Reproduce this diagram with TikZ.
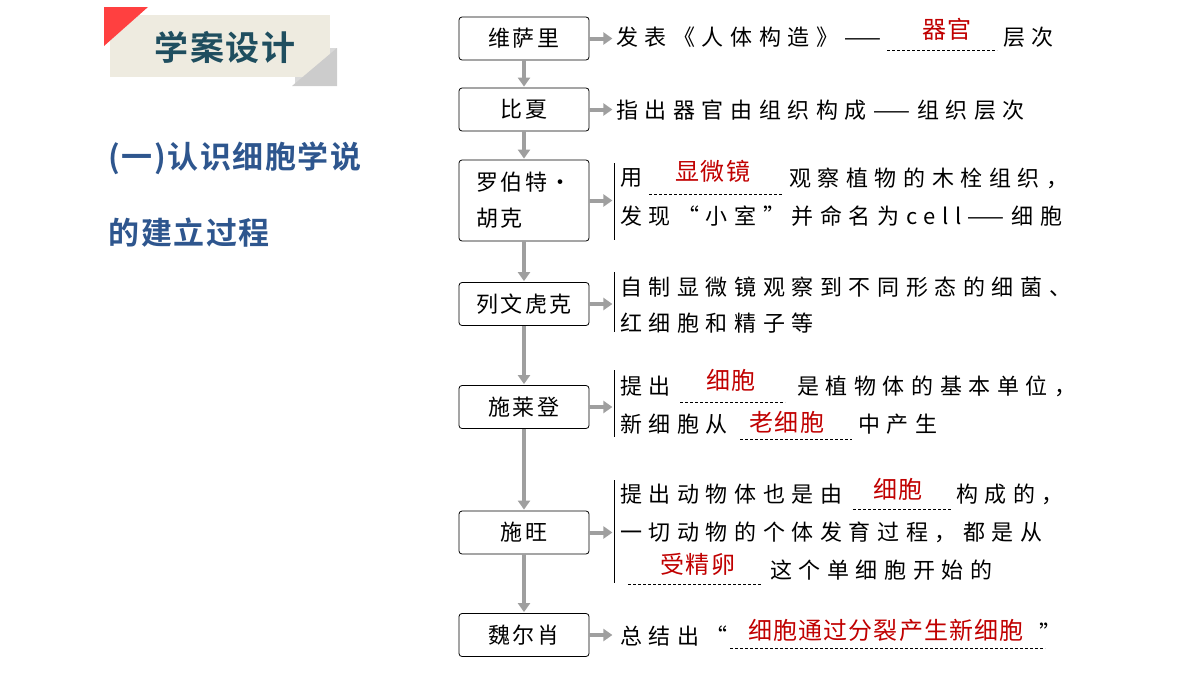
\documentclass[tikz,border=0pt]{standalone}
\usepackage{fontspec}
\usepackage{tikz}
\usetikzlibrary{arrows.meta}
\newfontfamily\cjk[LetterSpace=30]{Noto Sans CJK SC}
\newfontfamily\cjkbox[LetterSpace=12]{Noto Sans CJK SC}
\newfontfamily\cjkred[LetterSpace=5]{Noto Sans CJK SC}
\newfontfamily\cjkb[LetterSpace=5]{Noto Sans CJK SC Bold}
\definecolor{titleblue}{HTML}{1F4E5F}
\definecolor{headblue}{HTML}{2E568E}
\definecolor{ansred}{HTML}{C00000}
\definecolor{badge}{HTML}{EEEBE0}
\tikzset{
	box/.style={draw,rounded corners=3pt,thick,minimum width=130pt,minimum height=43pt,inner sep=0pt,font=\cjkbox\fontsize{22}{36}\selectfont},
	tx/.style={anchor=west,inner sep=0pt,font=\cjk\fontsize{22}{26}\selectfont},
	ans/.style={inner sep=0pt,text=ansred,font=\cjkred\fontsize{24}{28}\selectfont},
	blank/.style={densely dashed,thin},
	flow/.style={line width=4pt,gray!75,-{Triangle[length=9pt,width=12pt]},shorten >=1pt},
	brace/.style={thick}
}
\begin{document}
\begin{tikzpicture}[x=1pt,y=-1pt]
	\useasboundingbox (0,0) rectangle (1200,675);
	% badge
	\fill[gray!30] (295,48) -- (337,48) -- (337,86) -- (295,86) -- cycle;
	\fill[badge] (110,15) rectangle (330,77);
	\fill[red!75] (104,7) -- (148,7) -- (104,46) -- cycle;
	\fill[gray!40] (337,48) -- (337,86) -- (292,86) -- cycle;
	\node[text=titleblue,font=\cjkb\fontsize{34}{38}\selectfont] (title) at (225,47) {学案设计};
	\node[anchor=west,text=headblue,font=\cjkb\fontsize{31}{34}\selectfont] (head1) at (105,158) {(一)认识细胞学说};
	\node[anchor=west,text=headblue,font=\cjkb\fontsize{31}{34}\selectfont] (head2) at (105,233) {的建立过程};
	% boxes
	\node[box] (b1) at (524,38.5) {维萨里};
	\node[box] (b2) at (524,109.5) {比夏};
	\node[box,minimum height=81pt,align=left] (b3) at (524,200.5) {罗伯特·\\胡克};
	\node[box] (b4) at (524,304) {列文虎克};
	\node[box] (b5) at (524,407) {施莱登};
	\node[box] (b6) at (524,532.5) {施旺};
	\node[box] (b7) at (524,635) {魏尔肖};
	\foreach \a/\b in {b1/b2,b2/b3,b3/b4,b4/b5,b5/b6,b6/b7}
	\draw[flow] (\a) -- (\b);
	% side arrows
	\foreach \b in {1,...,7}
	\draw[flow] (b\b.east) -- +(24,0) coordinate (e\b);
	\draw[brace] (614,163) -- (614,240);
	\draw[brace] (614,272) -- (614,332);
	\draw[brace] (614,370) -- (614,437);
	\draw[brace] (614,480) -- (614,583);
	% texts
	\node[tx] (t1) at (616,37) {发表《人体构造》——};
	\draw[blank] (887,50) -- (997,50);
	\node[ans] (a1) at (947,29) {器官};
	\node[tx] (t1b) at (1003,37) {层次};
	\node[tx] (t2) at (616,110) {指出器官由组织构成——组织层次};
	\node[tx] (t3) at (620,178) {用};
	\draw[blank] (649,194) -- (782,194);
	\node[ans] (a3) at (713,171) {显微镜};
	\node[tx] (t3b) at (789,178) {观察植物的木栓组织，};
	\node[tx] (t3c) at (620,216) {发现“小室”并命名为cell——细胞};
	\node[tx] (t4) at (620,287) {自制显微镜观察到不同形态的细菌、};
	\node[tx] (t4b) at (620,323) {红细胞和精子等};
	\node[tx] (t5) at (620,386) {提出};
	\draw[blank] (680,402) -- (785,402);
	\node[ans] (a5) at (731,380) {细胞};
	\node[tx] (t5b) at (797,386) {是植物体的基本单位，};
	\node[tx] (t5c) at (620,424) {新细胞从};
	\draw[blank] (740,439) -- (852,439);
	\node[ans] (a5b) at (787,422) {老细胞};
	\node[tx] (t5d) at (858,424) {中产生};
	\node[tx] (t6) at (620,494) {提出动物体也是由};
	\draw[blank] (853,509) -- (952,509);
	\node[ans] (a6) at (898,489) {细胞};
	\node[tx] (t6b) at (956,494) {构成的，};
	\node[tx] (t6c) at (620,532) {一切动物的个体发育过程，都是从};
	\draw[blank] (628,584) -- (762,584);
	\node[ans] (a6b) at (698,564) {受精卵};
	\node[tx] (t6d) at (770,570) {这个单细胞开始的};
	\node[tx] (t7) at (620,636) {总结出“};
	\draw[blank] (730,648) -- (1045,648);
	\node[ans] (a7) at (886,630) {细胞通过分裂产生新细胞};
	\node[tx,anchor=east] (t7b) at (1062,632) {”};
\end{tikzpicture}
\end{document}
